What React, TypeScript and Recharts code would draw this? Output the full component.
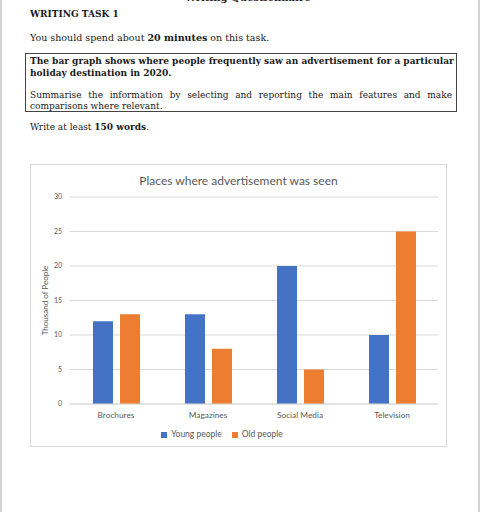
import { BarChart, Bar, XAxis, YAxis, CartesianGrid, Legend } from 'recharts';

const places = ['Brochures', 'Magazines', 'Social Media', 'Television'];
const youngPeople = [12, 13, 20, 10];
const oldPeople = [13, 8, 5, 25];
const yTicks = [0, 5, 10, 15, 20, 25, 30];

const data = places.map((place, i) => ({
  place,
  young: youngPeople[i],
  old: oldPeople[i],
}));

const serif = '"DejaVu Serif", serif';
const sans = 'Lato, "Open Sans", sans-serif';

// one justified line of the task text
function Line({ top, children, last, bold }: { top: number; children: any; last?: boolean; bold?: boolean }) {
  return (
    <div
      style={{
        position: 'absolute',
        left: 30,
        top,
        width: 422,
        fontSize: 9,
        lineHeight: '12px',
        fontWeight: bold ? 700 : 400,
        textAlign: 'justify',
        textAlignLast: last ? 'left' : 'justify',
        whiteSpace: 'nowrap',
      }}
    >
      {children}
    </div>
  );
}

export default function App() {
  return (
    <div
      style={{
        position: 'absolute',
        left: 0,
        top: 0,
        width: 481,
        height: 512,
        overflow: 'hidden',
        background: '#fff',
        fontFamily: serif,
        color: '#1a1a1a',
      }}
    >
      {/* page edges */}
      <div style={{ position: 'absolute', left: 0, top: 0, width: 2, height: 512, background: '#d4d4d4' }} />
      <div style={{ position: 'absolute', left: 478, top: 0, width: 2, height: 512, background: '#d4d4d4' }} />

      <div style={{ position: 'absolute', left: 185, top: -8, fontSize: 10, fontWeight: 700 }}>Writing Questionnaire</div>

      <div style={{ position: 'absolute', left: 30, top: 9, fontSize: 9, fontWeight: 700 }}>WRITING TASK 1</div>
      <div style={{ position: 'absolute', left: 30, top: 32, fontSize: 9.5 }}>
        You should spend about <b>20 minutes</b> on this task.
      </div>

      <div style={{ position: 'absolute', left: 25, top: 53, width: 430, height: 57, border: '1px solid #444' }} />
      <Line top={55} bold>The bar graph shows where people frequently saw an advertisement for a particular</Line>
      <Line top={67} bold last>holiday destination in 2020.</Line>
      <Line top={89}>Summarise the information by selecting and reporting the main features and make</Line>
      <Line top={100} last>comparisons where relevant.</Line>

      <div style={{ position: 'absolute', left: 30, top: 122, fontSize: 9 }}>
        Write at least <b>150 words</b>.
      </div>

      {/* chart box */}
      <div
        style={{
          position: 'absolute',
          left: 30,
          top: 164,
          width: 415,
          height: 281,
          border: '1px solid #d9d9d9',
          fontFamily: sans,
        }}
      >
        <div
          style={{
            position: 'absolute',
            left: 0,
            top: 8,
            width: 415,
            textAlign: 'center',
            fontSize: 12,
            color: '#595959',
          }}
        >
          Places where advertisement was seen
        </div>
        <BarChart
          width={415}
          height={281}
          data={data}
          margin={{ top: 32, right: 8, left: 8, bottom: 6 }}
          barSize={20}
          barGap={7}
        >
          <CartesianGrid vertical={false} stroke="#d9d9d9" />
          <XAxis
            dataKey="place"
            height={18}
            axisLine={{ stroke: '#d9d9d9' }}
            tickLine={false}
            tick={{ fontSize: 8.3, fill: '#595959' }}
            interval={0}
          />
          <YAxis
            domain={[0, 30]}
            ticks={yTicks}
            width={31}
            axisLine={false}
            tickLine={false}
            tick={{ fontSize: 7, fill: '#595959' }}
            label={{
              value: 'Thousand of People',
              angle: -90,
              position: 'insideLeft',
              offset: 6,
              style: { textAnchor: 'middle', fontSize: 8, fill: '#595959' },
            }}
          />
          <Legend
            verticalAlign="bottom"
            height={18}
            iconType="square"
            iconSize={6}
            itemSorter={null as any}
            formatter={(value: any) => <span style={{ color: '#595959' }}>{value}</span>}
            wrapperStyle={{ fontSize: 8.5, left: 0, width: 392, bottom: -1 }}
          />
          <Bar dataKey="young" name="Young people" fill="#4472C4" isAnimationActive={false} />
          <Bar dataKey="old" name="Old people" fill="#ED7D31" isAnimationActive={false} />
        </BarChart>
      </div>
    </div>
  );
}
